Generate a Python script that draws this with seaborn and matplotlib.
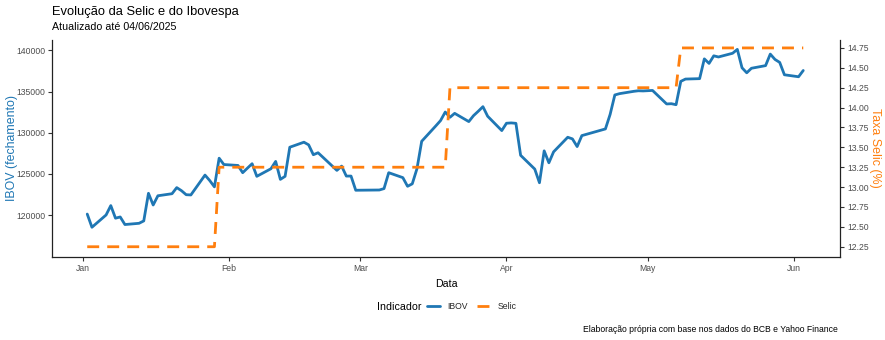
import matplotlib
matplotlib.use("Agg")
import matplotlib.pyplot as plt
import matplotlib.dates as mdates
from matplotlib.lines import Line2D
from matplotlib.ticker import FormatStrFormatter
import numpy as np
import pandas as pd
import seaborn as sns

# Pregões de 2025 (IBOV e Selic meta no mesmo calendário)
datas = [
    "2025-01-02", "2025-01-03", "2025-01-06", "2025-01-07", "2025-01-08", "2025-01-09",
    "2025-01-10", "2025-01-13", "2025-01-14", "2025-01-15", "2025-01-16", "2025-01-17",
    "2025-01-20", "2025-01-21", "2025-01-22", "2025-01-23", "2025-01-24", "2025-01-27",
    "2025-01-28", "2025-01-29", "2025-01-30", "2025-01-31",
    "2025-02-03", "2025-02-04", "2025-02-05", "2025-02-06", "2025-02-07", "2025-02-10",
    "2025-02-11", "2025-02-12", "2025-02-13", "2025-02-14", "2025-02-17", "2025-02-18",
    "2025-02-19", "2025-02-20", "2025-02-21", "2025-02-24", "2025-02-25", "2025-02-26",
    "2025-02-27", "2025-02-28",
    "2025-03-05", "2025-03-06", "2025-03-07", "2025-03-10", "2025-03-11", "2025-03-12",
    "2025-03-13", "2025-03-14", "2025-03-17", "2025-03-18", "2025-03-19", "2025-03-20",
    "2025-03-21", "2025-03-24", "2025-03-25", "2025-03-26", "2025-03-27", "2025-03-28",
    "2025-03-31",
    "2025-04-01", "2025-04-02", "2025-04-03", "2025-04-04", "2025-04-07", "2025-04-08",
    "2025-04-09", "2025-04-10", "2025-04-11", "2025-04-14", "2025-04-15", "2025-04-16",
    "2025-04-17", "2025-04-22", "2025-04-23", "2025-04-24", "2025-04-25", "2025-04-28",
    "2025-04-29", "2025-04-30",
    "2025-05-02", "2025-05-05", "2025-05-06", "2025-05-07", "2025-05-08", "2025-05-09",
    "2025-05-12", "2025-05-13", "2025-05-14", "2025-05-15", "2025-05-16", "2025-05-19",
    "2025-05-20", "2025-05-21", "2025-05-22", "2025-05-23", "2025-05-26", "2025-05-27",
    "2025-05-28", "2025-05-29", "2025-05-30",
    "2025-06-02", "2025-06-03",
]

# Fechamento do Ibovespa (pontos)
ibov = [
    120130, 118530, 120020, 121160, 119630, 119780,
    118860, 119010, 119300, 122650, 121230, 122350,
    122600, 123340, 122970, 122480, 122450, 124860,
    124200, 123430, 126910, 126140,
    126030, 125150, 125700, 126240, 124710, 125630,
    126520, 124340, 124710, 128240, 128850, 128530,
    127330, 127570, 127040, 125430, 125950, 124740,
    124740, 123020,
    123050, 123220, 125150, 124550, 123500, 123800,
    125640, 128960, 130830, 131470, 132510, 131870,
    132350, 131350, 132070, 132600, 133160, 132000,
    130260,
    131150, 131190, 131140, 127260, 125590, 123930,
    127800, 126350, 127680, 129450, 129250, 128320,
    129650, 130460, 132220, 134580, 134740, 135020,
    135090, 135070,
    135130, 133490, 133520, 133400, 136230, 136510,
    136560, 138960, 138410, 139330, 139190, 139640,
    140110, 137880, 137270, 137820, 138140, 139540,
    138890, 138530, 137030,
    136790, 137550,
]

# Meta da taxa Selic (% a.a.)
selic = (
    [12.25] * 20 + [13.25] * 2
    + [13.25] * 20
    + [13.25] * 11 + [14.25] * 8
    + [14.25] * 20
    + [14.25] * 4 + [14.75] * 17
    + [14.75] * 2
)

titulo = "Evolução da Selic e do Ibovespa"
subtitulo = "Atualizado até 04/06/2025"
legenda_titulo = "Indicador"
series = ["IBOV", "Selic"]
fonte = "Elaboração própria com base nos dados do BCB e Yahoo Finance"

ticks_ibov = [120000, 125000, 130000, 135000, 140000]
ticks_selic = [12.25, 12.50, 12.75, 13.00, 13.25, 13.50, 13.75, 14.00, 14.25, 14.50, 14.75]

df = pd.DataFrame({"Data": pd.to_datetime(datas), "IBOV": ibov, "Selic": selic})

sns.set_theme(style="white")
plt.rcParams["font.family"] = ["Liberation Sans", "DejaVu Sans"]

AZUL = "#1f77b4"
LARANJA = "#ff7f0e"
CINZA = "#4d4d4d"
LW = 2.0
TRACO = (4.3, 2.9)

W, H = 885, 340
fig = plt.figure(figsize=(W / 100, H / 100), dpi=100)
ax = fig.add_axes([52 / W, 1 - 256.6 / H, 788 / W, 217.1 / H])
ax2 = ax.twinx()

sns.lineplot(data=df, x="Data", y="IBOV", ax=ax, color=AZUL, linewidth=LW)
sns.lineplot(data=df, x="Data", y="Selic", ax=ax2, color=LARANJA, linewidth=LW)
ax2.lines[0].set_dashes(TRACO)

inicio = pd.Timestamp("2025-01-01")
ax.set_xlim(inicio - pd.Timedelta(days=6.48), inicio + pd.Timedelta(days=160.8))
ax.set_ylim(114970, 141310)
ax2.set_ylim(12.126, 14.856)

ax.xaxis.set_major_locator(mdates.MonthLocator())
ax.xaxis.set_major_formatter(mdates.DateFormatter("%b"))
ax.set_yticks(ticks_ibov)
ax.yaxis.set_major_formatter(FormatStrFormatter("%d"))
ax2.set_yticks(ticks_selic)
ax2.yaxis.set_major_formatter(FormatStrFormatter("%.2f"))

for a in (ax, ax2):
    a.tick_params(length=3, width=0.8, color="#333333", labelsize=6.2,
                  labelcolor=CINZA, pad=2, direction="out")
    a.grid(False)
    for s in a.spines.values():
        s.set_color("#222222")
        s.set_linewidth(0.9)
    a.spines["top"].set_visible(False)
ax.spines["right"].set_visible(False)
ax2.spines["left"].set_visible(False)
ax2.spines["bottom"].set_visible(False)
ax.tick_params(axis="x", bottom=True)
ax.tick_params(axis="y", left=True)
ax2.tick_params(axis="y", right=True)

ax.set_xlabel("Data", fontsize=7.7, color="black", labelpad=5)
ax.set_ylabel("")
ax2.set_ylabel("")

# Títulos dos eixos verticais posicionados diretamente na figura
ymeio = 1 - 148 / H
fig.text(12 / W, ymeio, "IBOV (fechamento)", fontsize=8.9, color=AZUL,
         rotation=90, ha="center", va="center")
fig.text(875 / W, ymeio, "Taxa Selic (%)", fontsize=8.9, color=LARANJA,
         rotation=-90, ha="center", va="center")

fig.text(52 / W, 1 - 15.3 / H, titulo, fontsize=9.3, color="black", va="baseline")
fig.text(52 / W, 1 - 30.3 / H, subtitulo, fontsize=7.7, color="black", va="baseline")

fig.text(377 / W, 1 - 306.7 / H, legenda_titulo, fontsize=7.7, color="black", va="center")
handles = [
    Line2D([], [], color=AZUL, linewidth=LW),
    Line2D([], [], color=LARANJA, linewidth=LW, dashes=TRACO),
]
fig.legend(handles, series, loc="center left", bbox_to_anchor=(427 / W, 1 - 306.7 / H),
           ncol=2, frameon=False, fontsize=6.2, handlelength=1.55, handletextpad=0.8,
           columnspacing=1.1, borderpad=0, borderaxespad=0)

fig.text(838 / W, 1 - 329 / H, fonte, fontsize=6.2, color="black", ha="right", va="center")

fig.savefig("out.png", dpi=100, facecolor="white")
